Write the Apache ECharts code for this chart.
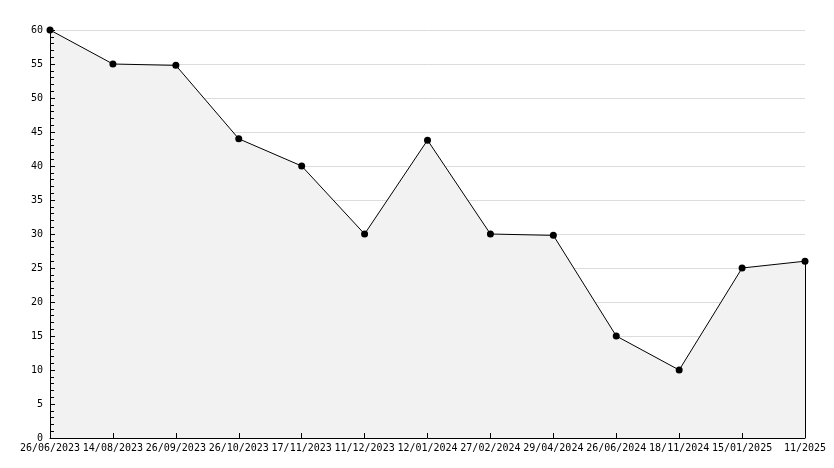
<!DOCTYPE html>
<html><head><meta charset="utf-8">
<script src="https://cdn.jsdelivr.net/npm/echarts@6/dist/echarts.min.js"></script>
<style>html,body{margin:0;padding:0;background:#fff}#c{width:834px;height:468px}</style>
</head><body><div id="c"></div>
<script>
var categories = ['26/06/2023','14/08/2023','26/09/2023','26/10/2023','17/11/2023','11/12/2023','12/01/2024','27/02/2024','29/04/2024','26/06/2024','18/11/2024','15/01/2025','11/2025'];
var values = [60, 55, 54.8, 44, 40, 30, 43.8, 30, 29.8, 15, 10, 25, 26];
var yTicks = {min: 0, max: 60, interval: 5};

var font = 'DejaVu Sans Mono';
var chart = echarts.init(document.getElementById('c'), null, {renderer: 'canvas'});
var last = categories.length - 1;
chart.setOption({
  animation: false,
  grid: {left: 50, right: 29, top: 30, bottom: 30, containLabel: false},
  xAxis: {
    type: 'category', data: categories, boundaryGap: false, z: 5,
    axisLine: {show: true, lineStyle: {color: '#000', width: 1}},
    axisTick: {show: true, inside: true, length: 5, lineStyle: {color: '#000'}},
    axisLabel: {color: '#000', fontFamily: font, fontSize: 10, margin: 5, interval: 0},
    splitLine: {show: false}
  },
  yAxis: [{
    type: 'value', min: yTicks.min, max: yTicks.max, interval: yTicks.interval, z: 5,
    axisLine: {show: true, lineStyle: {color: '#000', width: 1}},
    axisTick: {show: true, inside: true, length: 5, lineStyle: {color: '#000'}},
    minorTick: {show: true, splitNumber: 5, length: 4, lineStyle: {color: '#000'}},
    axisLabel: {color: '#000', fontFamily: font, fontSize: 10, margin: 7},
    splitLine: {show: false}
  }, {
    type: 'value', min: yTicks.min, max: yTicks.max, interval: yTicks.interval, z: 0,
    position: 'left',
    axisLine: {show: false}, axisTick: {show: false}, axisLabel: {show: false},
    splitLine: {show: true, lineStyle: {color: '#dcdcdc', width: 1}}
  }],
  series: [{
    type: 'line', data: values, z: 2, yAxisIndex: 0,
    symbol: 'circle', symbolSize: 7,
    itemStyle: {color: '#000'},
    lineStyle: {color: '#000', width: 1},
    areaStyle: {color: '#f2f2f2', opacity: 1},
    markLine: {
      silent: true, symbol: 'none', label: {show: false},
      lineStyle: {color: '#000', width: 1, type: 'solid'},
      data: [[{coord: [last, 0]}, {coord: [last, values[last]]}]]
    }
  }]
});
</script></body></html>
